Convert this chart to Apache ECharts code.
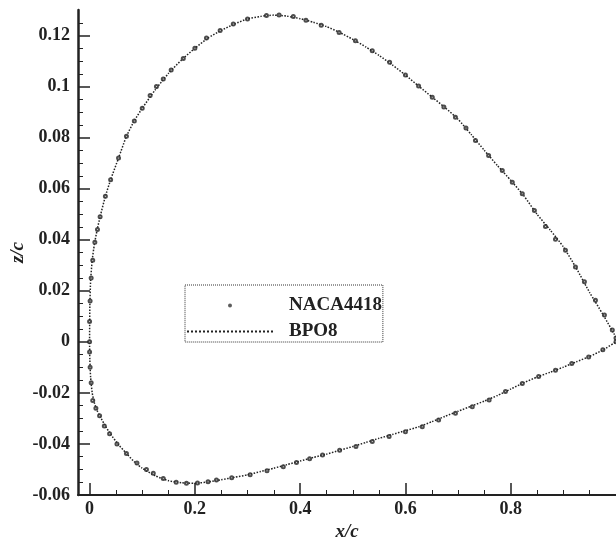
<!DOCTYPE html>
<html>
<head>
<meta charset="utf-8">
<script src="https://cdn.jsdelivr.net/npm/echarts@6/dist/echarts.min.js"></script>
<style>
html,body{margin:0;padding:0;background:#fff;}
#chart{width:616px;height:537px;}
</style>
</head>
<body>
<div id="chart"></div>
<script>
// ---- data ----
const nacaUpperX = [0.000,0.000,0.001,0.003,0.006,0.010,0.015,0.020,0.030,0.040,0.055,0.070,0.085,0.100,0.115,0.127,0.140,0.155,0.178,0.200,0.222,0.248,0.273,0.300,0.336,0.360,0.387,0.411,0.440,0.474,0.505,0.537,0.570,0.600,0.625,0.651,0.673,0.695,0.715,0.733,0.758,0.784,0.803,0.822,0.845,0.866,0.885,0.904,0.923,0.940,0.961,0.978,0.993,1.000];
const nacaUpperY = [0.000,0.008,0.016,0.025,0.032,0.039,0.044,0.049,0.057,0.0635,0.072,0.0805,0.0865,0.0915,0.0965,0.1000,0.1030,0.1065,0.1110,0.1150,0.1190,0.1220,0.1245,0.1265,0.1278,0.1280,0.1275,0.1260,0.1240,0.1212,0.1180,0.1140,0.1095,0.1045,0.1002,0.0958,0.0920,0.0880,0.0838,0.0789,0.0730,0.0671,0.0625,0.0580,0.0515,0.0452,0.0402,0.0359,0.0293,0.0235,0.0163,0.0105,0.0046,0.0015];
const nacaLowerX = [0.000,0.001,0.003,0.006,0.012,0.019,0.028,0.038,0.052,0.070,0.090,0.108,0.121,0.140,0.1645,0.184,0.205,0.225,0.241,0.270,0.305,0.337,0.368,0.393,0.418,0.4425,0.475,0.506,0.537,0.569,0.600,0.632,0.663,0.695,0.727,0.759,0.790,0.822,0.853,0.885,0.916,0.948,0.975,1.000];
const nacaLowerY = [-0.004,-0.010,-0.016,-0.023,-0.026,-0.029,-0.033,-0.036,-0.040,-0.0437,-0.0475,-0.050,-0.0515,-0.0535,-0.0550,-0.0554,-0.0553,-0.0548,-0.0541,-0.0532,-0.0521,-0.0505,-0.0489,-0.0473,-0.0458,-0.0443,-0.0425,-0.0410,-0.0390,-0.0371,-0.0352,-0.0333,-0.0306,-0.0280,-0.0254,-0.0228,-0.0195,-0.0163,-0.0136,-0.0111,-0.0085,-0.0059,-0.0031,0.0000];

const bpoX = [1.000,0.975,0.950,0.925,0.900,0.875,0.850,0.825,0.800,0.775,0.750,0.725,0.700,0.675,0.650,0.625,0.600,0.575,0.550,0.525,0.500,0.475,0.450,0.425,0.400,0.375,0.350,0.325,0.300,0.275,0.250,0.225,0.200,0.175,0.150,0.125,0.100,0.085,0.070,0.055,0.040,0.030,0.020,0.014,0.009,0.005,0.002,0.0005,0.000,
              0.0005,0.002,0.005,0.009,0.014,0.020,0.030,0.040,0.055,0.070,0.085,0.100,0.125,0.150,0.175,0.200,0.225,0.250,0.275,0.300,0.325,0.350,0.375,0.400,0.425,0.450,0.475,0.500,0.525,0.550,0.575,0.600,0.625,0.650,0.675,0.700,0.725,0.750,0.775,0.800,0.825,0.850,0.875,0.900,0.925,0.950,0.975,1.000];
const bpoY = [0.0018,0.0108,0.0193,0.0287,0.0372,0.0438,0.0500,0.0572,0.0633,0.0690,0.0750,0.0812,0.0872,0.0918,0.0960,0.1002,0.1045,0.1085,0.1122,0.1155,0.1185,0.1212,0.1235,0.1252,0.1266,0.1276,0.1280,0.1275,0.1265,0.1245,0.1220,0.1190,0.1150,0.1105,0.1052,0.0988,0.0915,0.0866,0.0805,0.0720,0.0635,0.0570,0.0490,0.0435,0.0380,0.0320,0.0240,0.0140,0.0000,
              -0.0070,-0.0140,-0.0200,-0.0238,-0.0268,-0.0292,-0.0330,-0.0362,-0.0403,-0.0437,-0.0470,-0.0495,-0.0525,-0.0544,-0.0552,-0.0554,-0.0549,-0.0540,-0.0531,-0.0521,-0.0508,-0.0495,-0.0481,-0.0467,-0.0453,-0.0440,-0.0425,-0.0410,-0.0394,-0.0378,-0.0363,-0.0348,-0.0333,-0.0313,-0.0292,-0.0272,-0.0252,-0.0232,-0.0210,-0.0185,-0.0160,-0.0138,-0.0119,-0.0099,-0.0078,-0.0057,-0.0032,0.0000];

const xTickLabels = ['0','0.2','0.4','0.6','0.8'];
const xMinorTicks = [0.05,0.1,0.15,0.25,0.3,0.35,0.45,0.5,0.55,0.65,0.7,0.75,0.85,0.9,0.95];
const yTickLabels = ['-0.06','-0.04','-0.02','0','0.02','0.04','0.06','0.08','0.1','0.12'];
const yMinorTicks = [-0.055,-0.05,-0.045,-0.035,-0.03,-0.025,-0.015,-0.01,-0.005,0.005,0.01,0.015,0.025,0.03,0.035,0.045,0.05,0.055,0.065,0.07,0.075,0.085,0.09,0.095,0.105,0.11,0.115,0.125];
const seriesNames = ['NACA4418','BPO8'];

// ---- build ----
const nacaData = nacaUpperX.map((x,i)=>[x,nacaUpperY[i]]).concat(nacaLowerX.map((x,i)=>[x,nacaLowerY[i]]));
const bpoData = bpoX.map((x,i)=>[x,bpoY[i]]);

const labelFont = {fontFamily:'Liberation Serif', fontWeight:'bold', fontSize:18, color:'#222'};
const nameFont = {fontFamily:'Liberation Serif', fontWeight:'bold', fontStyle:'italic', fontSize:19, color:'#222'};
const fmt = v => String(+(+v).toFixed(3));

const chart = echarts.init(document.getElementById('chart'), null, {renderer:'canvas'});
chart.setOption({
  animation:false,
  backgroundColor:'#fff',
  grid:{left:78, right:0, top:10, bottom:42, containLabel:false, outerBoundsMode:'none'},
  legend:{
    orient:'vertical', left:185, top:285,
    data:[{name:seriesNames[0], icon:'circle', itemStyle:{color:'#333'}},{name:seriesNames[1], itemStyle:{opacity:0}}],
    itemWidth:86, itemHeight:4, itemGap:7,
    padding:[11,1,1,1],
    borderColor:'#333', borderWidth:1, borderType:'dotted',
    textStyle:{fontFamily:'Liberation Serif', fontWeight:'bold', fontSize:19, color:'#222', padding:[0,0,0,11]}
  },
  xAxis:[{
    type:'value', min:-0.022, max:1.0, position:'bottom',
    name:'x/c', nameLocation:'middle', nameGap:15, nameTextStyle:nameFont,
    axisLine:{show:true, onZero:false, lineStyle:{color:'#222', width:2}},
    axisTick:{show:true, inside:true, length:12, customValues:xTickLabels.map(Number), lineStyle:{color:'#222', width:1.5}},
    axisLabel:Object.assign({show:true, margin:5, customValues:xTickLabels.map(Number), formatter:fmt}, labelFont),
    splitLine:{show:false}
  },{
    type:'value', min:-0.022, max:1.0, position:'bottom',
    axisLine:{show:false, onZero:false},
    axisTick:{show:true, inside:true, length:5, customValues:xMinorTicks, lineStyle:{color:'#222', width:1}},
    axisLabel:{show:false},
    splitLine:{show:false}
  }],
  yAxis:[{
    type:'value', min:-0.06, max:0.13, position:'left',
    name:'z/c', nameLocation:'middle', nameGap:50, nameMoveOverlap:false, nameTextStyle:nameFont,
    axisLine:{show:true, onZero:false, lineStyle:{color:'#222', width:2.5}},
    axisTick:{show:true, inside:true, length:12, customValues:yTickLabels.map(Number), lineStyle:{color:'#222', width:1.5}},
    axisLabel:Object.assign({show:true, margin:8, customValues:yTickLabels.map(Number), formatter:fmt}, labelFont),
    splitLine:{show:false}
  },{
    type:'value', min:-0.06, max:0.13, position:'left',
    axisLine:{show:false, onZero:false},
    axisTick:{show:true, inside:true, length:5, customValues:yMinorTicks, lineStyle:{color:'#222', width:1}},
    axisLabel:{show:false},
    splitLine:{show:false}
  }],
  series:[{
    name:seriesNames[0], type:'scatter', xAxisIndex:0, yAxisIndex:0, z:3,
    data:nacaData, symbol:'emptyCircle', symbolSize:3,
    itemStyle:{color:'#222', borderWidth:1}
  },{
    name:seriesNames[1], type:'line', xAxisIndex:0, yAxisIndex:0, z:2,
    data:bpoData, symbol:'none', showSymbol:false, smooth:0.2,
    lineStyle:{color:'#222', width:1.5, type:'dotted'},
    itemStyle:{color:'#222'}
  }]
});
</script>
</body>
</html>
